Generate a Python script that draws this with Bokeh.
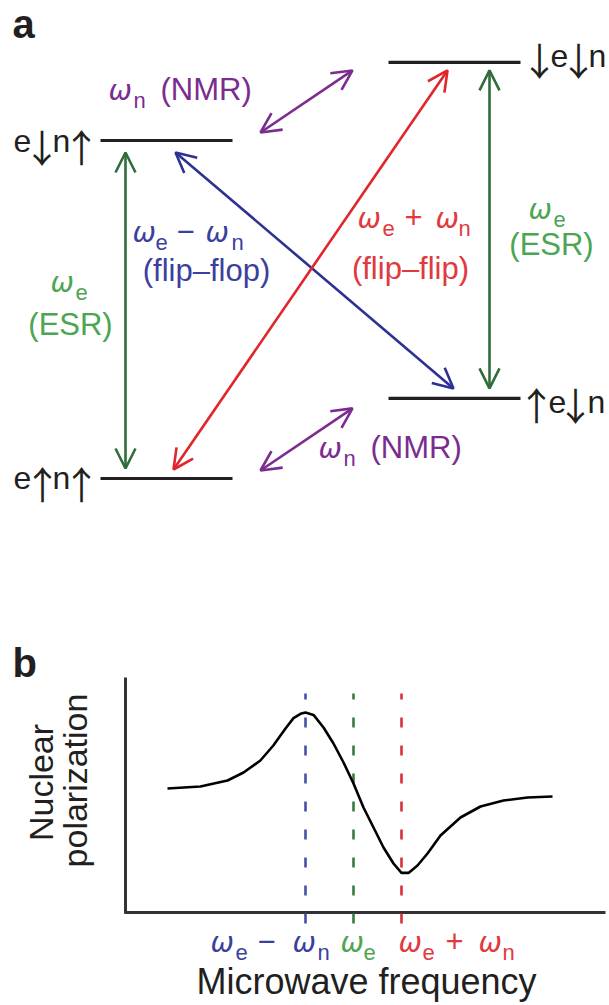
import math
from bokeh.plotting import figure
from bokeh.models import Range1d, Arrow, OpenHead, ColumnDataSource
from bokeh.layouts import column
from bokeh.embed import file_html
from bokeh.resources import INLINE
from bokeh.core.properties import value

# ============================ DATA ============================
# Panel a: the four electron/nuclear spin states, relative energies
state_names = ["e↑n↑", "↑e↓n", "e↓n↑", "↓e↓n"]
state_energy = [0.0, 0.237, 1.0, 1.231]
state_column = ["left", "right", "left", "right"]

# Transitions between the states
transition_kind = ["ESR", "ESR", "flip–flop", "flip–flip", "NMR", "NMR"]
transition_lower = ["e↑n↑", "↑e↓n", "↑e↓n", "e↑n↑", "e↓n↑", "e↑n↑"]
transition_upper = ["e↓n↑", "↓e↓n", "e↓n↑", "↓e↓n", "↓e↓n", "↑e↓n"]

# Panel b: nuclear polarization vs microwave frequency
# (frequency offset from ωe in units of ωn; polarization in arbitrary units)
freq = [-3.875, -3.19, -2.625, -2.29, -1.94, -1.67, -1.417, -1.25, -1.104, -1.0,
        -0.833, -0.625, -0.417, -0.208, 0.0, 0.208, 0.417, 0.625, 0.833, 1.0,
        1.146, 1.333, 1.542, 1.8125, 2.229, 2.646, 3.125, 3.625, 4.146]
polarization = [0.025, 0.05, 0.125, 0.225, 0.375, 0.5625, 0.775, 0.905, 0.958, 0.975,
                0.945, 0.7875, 0.5875, 0.35, 0.0875, -0.2125, -0.4625, -0.7125, -0.9125, -1.03,
                -1.03, -0.9375, -0.7875, -0.5625, -0.3375, -0.2, -0.125, -0.0875, -0.075]
marker_freq = [-1.0, 0.0, 1.0]          # ωe − ωn, ωe, ωe + ωn

# ============================ STYLE / LAYOUT ============================
BLACK = "#231f20"
PURPLE = "#7b2c8f"
BLUE_A, BLUE_T = "#2e3192", "#3b3f9e"
RED_A, RED_T = "#e0252b", "#e0393e"
GREEN_A, GREEN_T = "#2f6e3a", "#4ca552"
DASH = {-1.0: "#4650a5", 0.0: "#3a7a41", 1.0: "#da2f36"}
SANS = "Liberation Sans"
OMEGA_FONT = "DejaVu Sans"
ARROW_FONT = "Noto Sans CJK JP"
MID = 0.36   # em offset between baseline and rendered anchor

W = 609
H_TOP, H_BOT = 608, 397

# page-pixel <-> data helpers (page pixel = reference pixel)
PX_E0, PX_PER_E = 478.0, 338.0
def E(py):  # top panel: pixel row -> energy
    return (PX_E0 - py) / PX_PER_E
def F(px):  # bottom panel: pixel column -> frequency
    return (px - 353.0) / 48.0
def P(py):  # bottom panel: pixel row -> polarization
    return (790.0 - py) / 80.0
ident = lambda v: v

col_span = {"left": (100, 232), "right": (388, 520)}
# state label glyph placement: baseline, arrow middle, [(x, char)]
state_label_layout = {
    "e↑n↑": (489, 482, [(13, "e"), (42, "↑"), (52, "n"), (81, "↑")]),
    "↑e↓n": (413, 403, [(536, "↑"), (548, "e"), (575, "↓"), (587, "n")]),
    "e↓n↑": (152, 145, [(13, "e"), (41.5, "↓"), (52, "n"), (81, "↑")]),
    "↓e↓n": (67, 58, [(539, "↓"), (550, "e"), (578, "↓"), (588, "n")]),
}
# per transition: x at lower state, gap, x at upper state, gap (pixels)
arrow_geom = [(125, 10, 125, 12), (489, 10, 489, 8), (453, 10, 175, 12),
              (173, 9, 447, 8), (260, 8, 352, 8), (260, 8, 352, 10)]
kind_color = {"ESR": GREEN_A, "flip–flop": BLUE_A, "flip–flip": RED_A, "NMR": PURPLE}


def new_fig(h, xr, yr):
    p = figure(width=W, height=h, x_range=xr, y_range=yr, output_backend="svg",
               toolbar_location=None, min_border=0, outline_line_color=None,
               background_fill_color="white", border_fill_color="white")
    p.axis.visible = False
    p.grid.visible = False
    return p


def put(p, fx, fy, xpx, ypx, s, color, size, font=SANS, style="normal", align="left",
        rotated=False, is_mid=False):
    """place text with its baseline (or middle if is_mid) at the given page pixel."""
    off = 0.0 if is_mid else MID * size
    if rotated:
        x, y, ang = fx(xpx - off), fy(ypx), math.pi / 2
    else:
        x, y, ang = fx(xpx), fy(ypx - off), 0.0
    p.text(x=[x], y=[y], text=[s], text_color=color, text_font=value(font),
           text_font_size=f"{size}px", text_font_style=style, text_align=align,
           text_baseline="alphabetic", angle=ang)


def composite(p, fx, fy, parts, base, color):
    """parts: (kind, x_px, text); w=omega, s=subscript, t=plain left, c=plain centered"""
    for kind, xpx, s in parts:
        if kind == "w":
            put(p, fx, fy, xpx, base, s, color, 28, font=OMEGA_FONT, style="italic")
        elif kind == "s":
            put(p, fx, fy, xpx, base + 8, s, color, 22)
        elif kind == "c":
            put(p, fx, fy, xpx, base, s, color, 31, align="center")
        else:
            put(p, fx, fy, xpx, base, s, color, 31)


# ============================ PANEL a ============================
pa = new_fig(H_TOP, Range1d(0, 609), Range1d(E(608), E(0)))
energy_of = dict(zip(state_names, state_energy))

# energy levels
pa.segment(x0=[col_span[c][0] for c in state_column], x1=[col_span[c][1] for c in state_column],
           y0=state_energy, y1=state_energy, line_color=BLACK, line_width=3.2)
for name in state_names:
    base, amid, glyphs = state_label_layout[name]
    for x, ch in glyphs:
        if ch in "↑↓":
            put(pa, ident, E, x, amid, ch, BLACK, 38, font=ARROW_FONT, align="center", is_mid=True)
        else:
            put(pa, ident, E, x, base, ch, BLACK, 32)

# transition arrows
for kind, lo, up, (xl, gl, xu, gu) in zip(transition_kind, transition_lower, transition_upper, arrow_geom):
    c = kind_color[kind]
    src = ColumnDataSource(dict(xs=[xl], ys=[energy_of[lo] + gl / PX_PER_E],
                                xe=[xu], ye=[energy_of[up] - gu / PX_PER_E]))
    pa.add_layout(Arrow(x_start="xs", y_start="ys", x_end="xe", y_end="ye", source=src,
                        line_color=c, line_width=2.6,
                        start=OpenHead(line_color=c, line_width=2.6, size=20),
                        end=OpenHead(line_color=c, line_width=2.6, size=20)))

# transition labels
composite(pa, ident, E, [("w", 108, "ω"), ("s", 133, "n"), ("t", 160, "(NMR)")], 100, PURPLE)
composite(pa, ident, E, [("w", 132, "ω"), ("s", 155, "e"), ("c", 185, "−"),
                         ("w", 205, "ω"), ("s", 231, "n")], 242, BLUE_T)
composite(pa, ident, E, [("c", 206, "(flip–flop)")], 281, BLUE_T)
composite(pa, ident, E, [("w", 50, "ω"), ("s", 75, "e")], 292, GREEN_T)
composite(pa, ident, E, [("c", 70, "(ESR)")], 335, GREEN_T)
composite(pa, ident, E, [("w", 357, "ω"), ("s", 382, "e"), ("c", 413, "+"),
                         ("w", 435, "ω"), ("s", 458, "n")], 228, RED_T)
composite(pa, ident, E, [("c", 410, "(flip–flip)")], 279, RED_T)
composite(pa, ident, E, [("w", 528, "ω"), ("s", 553, "e")], 219, GREEN_T)
composite(pa, ident, E, [("c", 551, "(ESR)")], 255, GREEN_T)
composite(pa, ident, E, [("w", 318, "ω"), ("s", 343, "n"), ("t", 370, "(NMR)")], 458, PURPLE)

put(pa, ident, E, 12, 38, "a", BLACK, 40, style="bold")

# ============================ PANEL b ============================
pb = new_fig(H_BOT, Range1d(F(0), F(609)), Range1d(P(1005), P(608)))

# axes
pb.segment(x0=[F(125), F(124)], x1=[F(125), F(605)], y0=[P(677), P(912)], y1=[P(913), P(912)],
           line_color="#333333", line_width=3)

# resonance markers
for fm in marker_freq:
    pb.segment(x0=[fm], x1=[fm], y0=[P(693)], y1=[P(925)], line_color=DASH[fm],
               line_width=2.6, line_dash="10 18", line_dash_offset=4)

# polarization curve
pb.line(freq, polarization, line_color="black", line_width=2.6)

# tick labels
composite(pb, F, P, [("w", 210, "ω"), ("s", 235, "e"), ("c", 266, "−"),
                     ("w", 292, "ω"), ("s", 317, "n")], 952, BLUE_T)
composite(pb, F, P, [("w", 340, "ω"), ("s", 363, "e")], 952, GREEN_T)
composite(pb, F, P, [("w", 398, "ω"), ("s", 422, "e"), ("c", 454, "+"),
                     ("w", 478, "ω"), ("s", 502, "n")], 952, RED_T)

put(pb, F, P, 366, 994, "Microwave frequency", BLACK, 36, align="center")
put(pb, F, P, 53, 782, "Nuclear", BLACK, 34, align="center", rotated=True)
put(pb, F, P, 87, 780, "polarization", BLACK, 34, align="center", rotated=True)
put(pb, F, P, 12, 677, "b", BLACK, 40, style="bold")

layout = column(pa, pb, spacing=0)
with open("out.html", "w") as f:
    f.write(file_html(layout, INLINE))
